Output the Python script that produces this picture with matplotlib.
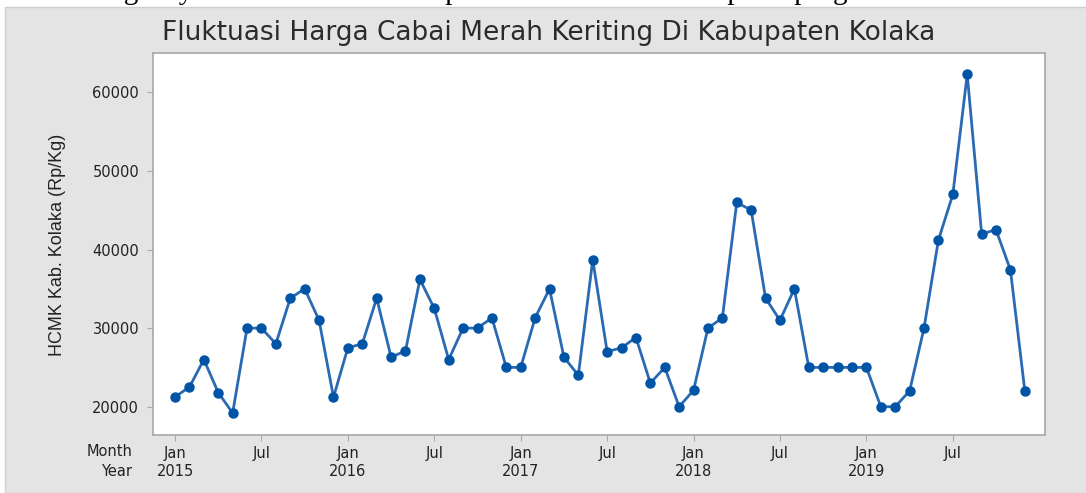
import matplotlib.pyplot as plt
from matplotlib.patches import Rectangle
from matplotlib import font_manager

# monthly prices Jan 2015 .. Dec 2019 (Rp/Kg)
prices_2015 = [21250, 22500, 26000, 21800, 19200, 30000, 30000, 28000, 33800, 35000, 31000, 21200]
prices_2016 = [27500, 28000, 33800, 26300, 27100, 36200, 32500, 26000, 30000, 30000, 31300, 25000]
prices_2017 = [25000, 31300, 35000, 26300, 24000, 38700, 27000, 27500, 28800, 23000, 25000, 20000]
prices_2018 = [22100, 30000, 31300, 46000, 45000, 33800, 31000, 35000, 25000, 25000, 25000, 25000]
prices_2019 = [25000, 20000, 20000, 22000, 30000, 41200, 47000, 62300, 42000, 42500, 37400, 22000]
years = ['2015', '2016', '2017', '2018', '2019']
month_labels = ['Jan', 'Jul']
y_ticks = [20000, 30000, 40000, 50000, 60000]

prices = prices_2015 + prices_2016 + prices_2017 + prices_2018 + prices_2019
months = list(range(len(prices)))

available = {f.name for f in font_manager.fontManager.ttflist}
narrow = 'Liberation Sans Narrow' if 'Liberation Sans Narrow' in available else 'Liberation Sans'

W, H = 1086, 493
fig = plt.figure(figsize=(W / 100, H / 100), dpi=100)
fig.patch.set_facecolor('white')

# gray minitab panel
panel = Rectangle((5 / W, 0), 1, 1 - 7 / H, transform=fig.transFigure,
                  facecolor='#e4e4e4', edgecolor='#cfcfcf', lw=1, zorder=-5)
fig.patches.append(panel)
# cut-off caption line from the page above
fig.text(0.0, 1 + 1 / H, 'Kolaka Regency obtained with the help of the Minitab 17 computer program.',
         family='Liberation Serif', fontsize=21, va='baseline', ha='left', color='black', zorder=-10)

ax = fig.add_axes([153 / W, 58 / H, 892 / W, 382 / H])
ax.set_zorder(2)
ax.set_facecolor('white')
ax.plot(months, prices, color='#2a6ab3', lw=2, marker='o', markersize=6.5,
        markerfacecolor='#0054a6', markeredgecolor='#0054a6', zorder=3)

ax.set_xlim(-1.53, 60.4)
ax.set_ylim(16400, 65000)

for s in ax.spines.values():
    s.set_color('#a8a8a8')
    s.set_linewidth(1.2)

ax.set_yticks(y_ticks)
ax.set_yticklabels([str(v) for v in y_ticks])
ax.tick_params(axis='y', length=4, color='#a8a8a8', pad=6, labelsize=10.5, labelcolor='#222222')

tick_pos = list(range(0, 60, 6))
ax.set_xticks(tick_pos)
ax.set_xticklabels([month_labels[i % 2] for i in range(len(tick_pos))])
ax.tick_params(axis='x', length=4, color='#a8a8a8', pad=4, labelsize=10.5, labelcolor='#222222')

for i, yr in enumerate(years):
    ax.annotate(yr, xy=(i * 12, 0), xycoords=('data', 'axes fraction'),
                xytext=(0, -37), textcoords='offset pixels', ha='center', va='center',
                fontsize=10.5, color='#222222', annotation_clip=False)

fig.text(132 / W, 1 - 451 / H, 'Month', ha='right', va='center', fontsize=10.5, color='#222222')
fig.text(132 / W, 1 - 472 / H, 'Year', ha='right', va='center', fontsize=10.5, color='#222222')

fig.text(58 / W, 1 - 245 / H, 'HCMK Kab. Kolaka (Rp/Kg)', rotation=90, ha='center', va='center',
         family=narrow, fontsize=13, color='#222222')

fig.text(549 / W, 1 - 33 / H, 'Fluktuasi Harga Cabai Merah Keriting Di Kabupaten Kolaka',
         ha='center', va='center', fontsize=19, color='#2b2b2b')

fig.savefig('out.png', dpi=100)
